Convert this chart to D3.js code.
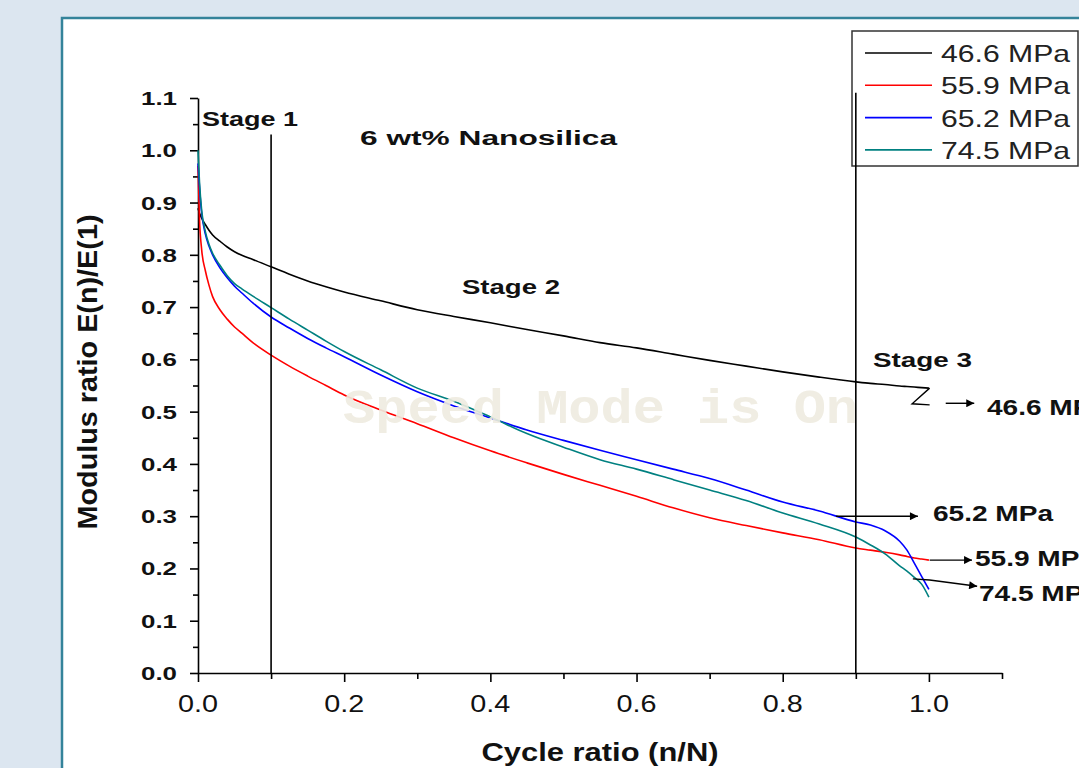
<!DOCTYPE html>
<html>
<head>
<meta charset="utf-8">
<script src="https://cdn.jsdelivr.net/npm/d3@7"></script>
<style>
  body { margin: 0; background: #dce6f0; overflow: hidden; }
  svg { display: block; font-family: "Liberation Sans", Arial, sans-serif; }
</style>
</head>
<body>
<svg id="chart" width="1079" height="768"></svg>
<script>
// data
const cycleRatio = [0, 0.002, 0.005, 0.01, 0.015, 0.02, 0.03, 0.04, 0.05, 0.06, 0.075, 0.1, 0.125, 0.15, 0.175, 0.2,
  0.25, 0.3, 0.35, 0.4, 0.45, 0.5, 0.55, 0.6, 0.65, 0.7, 0.75, 0.8, 0.85, 0.9, 0.92, 0.94, 0.96, 0.97, 0.98, 0.99, 1.0];
const mod466 = [0.889, 0.88, 0.87, 0.858, 0.847, 0.838, 0.826, 0.815, 0.806, 0.799, 0.791, 0.777, 0.763, 0.75, 0.739, 0.729,
  0.712, 0.695, 0.682, 0.67, 0.657, 0.645, 0.632, 0.622, 0.61, 0.598, 0.587, 0.576, 0.566, 0.557, 0.554, 0.552, 0.549, 0.548, 0.547, 0.546, 0.545];
const mod559 = [0.97, 0.87, 0.81, 0.77, 0.742, 0.72, 0.695, 0.677, 0.662, 0.65, 0.632, 0.608, 0.587, 0.568, 0.55, 0.532,
  0.503, 0.477, 0.45, 0.425, 0.402, 0.38, 0.359, 0.338, 0.316, 0.297, 0.282, 0.268, 0.255, 0.239, 0.235, 0.231, 0.226, 0.223, 0.22, 0.218, 0.216];
const mod652 = [0.975, 0.93, 0.88, 0.84, 0.817, 0.8, 0.775, 0.756, 0.74, 0.727, 0.708, 0.681, 0.66, 0.64, 0.622, 0.605,
  0.57, 0.538, 0.511, 0.488, 0.465, 0.445, 0.426, 0.408, 0.39, 0.372, 0.35, 0.327, 0.31, 0.289, 0.283, 0.272, 0.252, 0.235, 0.21, 0.185, 0.16];
const mod745 = [1.0, 0.94, 0.885, 0.845, 0.82, 0.803, 0.78, 0.76, 0.745, 0.735, 0.721, 0.699, 0.677, 0.656, 0.635, 0.615,
  0.58, 0.545, 0.52, 0.49, 0.458, 0.432, 0.408, 0.39, 0.37, 0.35, 0.33, 0.306, 0.285, 0.26, 0.245, 0.228, 0.205, 0.195, 0.183, 0.17, 0.145];

const seriesNames = ["46.6 MPa", "55.9 MPa", "65.2 MPa", "74.5 MPa"];
const seriesColors = ["#000000", "#ff0000", "#0000ff", "#008080"];
const seriesValues = [mod466, mod559, mod652, mod745];

const xTicks = [0, 0.2, 0.4, 0.6, 0.8, 1.0];
const yTicks = [0, 0.1, 0.2, 0.3, 0.4, 0.5, 0.6, 0.7, 0.8, 0.9, 1.0, 1.1];

// stage divider lines: [cycle ratio, top of line]
const stageLines = [[0.1, 1.03], [0.9, 1.11]];

const svg = d3.select("#chart");

// white panel with teal border
svg.append("rect")
  .attr("x", 62).attr("y", 18).attr("width", 1100).attr("height", 800)
  .attr("fill", "#fff").attr("stroke", "#34839a").attr("stroke-width", 2.5);

const x = d3.scaleLinear().domain([0, 1.1]).range([198, 1002]);
const y = d3.scaleLinear().domain([0, 1.1]).range([673, 98]);

// helper for the wide-looking text of the original
function label(px, py, txt, size, width, weight, anchor) {
  const t = svg.append("text")
    .attr("x", px).attr("y", py)
    .attr("font-size", size)
    .attr("font-weight", weight || "bold")
    .attr("fill", "#111")
    .attr("text-anchor", anchor || "start")
    .text(txt);
  if (width) t.attr("textLength", width).attr("lengthAdjust", "spacingAndGlyphs");
  return t;
}

// x axis
const xAxis = svg.append("g").attr("transform", "translate(0,673)");
xAxis.call(d3.axisBottom(x).tickValues(d3.range(0, 1.15, 0.1)).tickSize(6).tickSizeOuter(0).tickFormat(""));
xAxis.selectAll(".tick line").filter(d => xTicks.some(t => Math.abs(t - d) < 1e-6)).attr("y2", 9);
xAxis.selectAll("path, line").attr("stroke", "#000").attr("stroke-width", 1.6);
xTicks.forEach(t => label(x(t), 712, d3.format(".1f")(t), 23, 40, "normal", "middle"));

// y axis
const yAxis = svg.append("g").attr("transform", "translate(198,0)");
yAxis.call(d3.axisLeft(y).tickValues(d3.range(0, 1.14, 0.05)).tickSize(5).tickSizeOuter(0).tickFormat(""));
yAxis.selectAll(".tick line").filter(d => yTicks.some(t => Math.abs(t - d) < 1e-6)).attr("x2", -8);
yAxis.selectAll("path, line").attr("stroke", "#000").attr("stroke-width", 1.6);
yTicks.forEach(t => label(177, y(t) + 7, d3.format(".1f")(t), 19, 36, "bold", "end"));

// axis titles
label(600, 761, "Cycle ratio (n/N)", 25, 237, "bold", "middle");
svg.append("text")
  .attr("transform", "translate(97,372) rotate(-90)")
  .attr("font-size", 28).attr("font-weight", "bold").attr("fill", "#111")
  .attr("text-anchor", "middle")
  .attr("textLength", 315).attr("lengthAdjust", "spacingAndGlyphs")
  .text("Modulus ratio E(n)/E(1)");

// curves
const line = d3.line()
  .x((d, i) => x(cycleRatio[i]))
  .y(d => y(d))
  .curve(d3.curveMonotoneX);
seriesValues.forEach((vals, k) => {
  svg.append("path")
    .datum(vals)
    .attr("d", line)
    .attr("fill", "none")
    .attr("stroke", seriesColors[k])
    .attr("stroke-width", 1.6);
});

// watermark
svg.append("text")
  .attr("x", 343).attr("y", 423)
  .attr("font-family", "'Courier New', 'Liberation Mono', monospace")
  .attr("font-size", 48).attr("font-weight", "bold")
  .attr("fill", "#efece0").attr("opacity", 0.9)
  .attr("textLength", 515).attr("lengthAdjust", "spacingAndGlyphs")
  .text("Speed Mode is On");

// legend
const lg = svg.append("g");
lg.append("rect").attr("x", 852).attr("y", 31).attr("width", 226).attr("height", 135)
  .attr("fill", "#fff").attr("stroke", "#333").attr("stroke-width", 1.5);
seriesNames.forEach((name, k) => {
  const ly = 53 + k * 32.3;
  lg.append("line").attr("x1", 865).attr("x2", 932).attr("y1", ly).attr("y2", ly)
    .attr("stroke", seriesColors[k]).attr("stroke-width", 1.6);
  label(941, ly + 9, name, 24, 129, "normal").attr("fill", "#222");
});

// stage lines
stageLines.forEach(([sx, top]) => {
  svg.append("line")
    .attr("x1", x(sx)).attr("x2", x(sx)).attr("y1", y(top)).attr("y2", y(0))
    .attr("stroke", "#000").attr("stroke-width", 1.6);
});

// annotation text
label(202, 126, "Stage 1", 20, 96);
label(360, 145, "6 wt% Nanosilica", 20, 257);
label(462, 294, "Stage 2", 20, 98);
label(873, 367, "Stage 3", 20, 99);
label(987, 415, "46.6 MPa", 22, 120);
label(933, 521, "65.2 MPa", 22, 120);
label(975, 566, "55.9 MPa", 22, 120);
label(979, 601, "74.5 MPa", 22, 120);

// arrows (cycle ratio, modulus ratio)
const defs = svg.append("defs");
defs.append("marker").attr("id", "arr").attr("viewBox", "0 0 10 10")
  .attr("refX", 10).attr("refY", 5).attr("markerWidth", 12).attr("markerHeight", 8)
  .attr("markerUnits", "userSpaceOnUse").attr("orient", "auto")
  .append("path").attr("d", "M0,0L10,5L0,10Z").attr("fill", "#000");

const zigzag466 = [[1.001, 0.545], [0.977, 0.515], [1.001, 0.513]];
const arrows = [
  [[1.023, 0.516], [1.062, 0.516]],
  [[0.873, 0.300], [0.985, 0.300]],
  [[1.001, 0.216], [1.059, 0.216]],
  [[0.978, 0.180], [1.001, 0.178], [1.066, 0.166]]
];
const pl = d3.line().x(d => x(d[0])).y(d => y(d[1]));
svg.append("path").attr("d", pl(zigzag466)).attr("fill", "none").attr("stroke", "#000").attr("stroke-width", 1.4);
arrows.forEach(a => {
  svg.append("path").attr("d", pl(a)).attr("fill", "none").attr("stroke", "#000")
    .attr("stroke-width", 1.4).attr("marker-end", "url(#arr)");
});
</script>
</body>
</html>
